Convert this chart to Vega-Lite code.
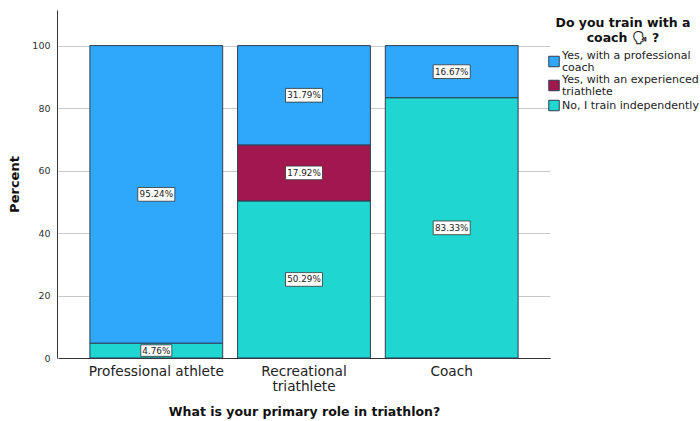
{
  "$schema": "https://vega.github.io/schema/vega-lite/v6.json",
  "width": 492,
  "height": 348,
  "autosize": {"type": "none"},
  "padding": {"left": 57, "top": 10, "right": 151, "bottom": 63},
  "background": "white",
  "config": {"font": "DejaVu Sans", "view": {"stroke": null}},
  "data": {
    "values": [
      {"role": "Professional athlete", "answer": "No, I train independently", "rank": 1, "pct": 4.76},
      {"role": "Professional athlete", "answer": "Yes, with a professional coach", "rank": 3, "pct": 95.24},
      {"role": "Recreational triathlete", "answer": "No, I train independently", "rank": 1, "pct": 50.29},
      {"role": "Recreational triathlete", "answer": "Yes, with an experienced triathlete", "rank": 2, "pct": 17.92},
      {"role": "Recreational triathlete", "answer": "Yes, with a professional coach", "rank": 3, "pct": 31.79},
      {"role": "Coach", "answer": "No, I train independently", "rank": 1, "pct": 83.33},
      {"role": "Coach", "answer": "Yes, with a professional coach", "rank": 3, "pct": 16.67}
    ]
  },
  "transform": [
    {"stack": "pct", "groupby": ["role"], "sort": [{"field": "rank", "order": "ascending"}], "as": ["low", "high"]},
    {"calculate": "(datum.low + datum.high) / 2", "as": "mid"},
    {"calculate": "format(datum.pct, '.2f') + '%'", "as": "pctLabel"}
  ],
  "encoding": {
    "x": {
      "field": "role",
      "type": "nominal",
      "sort": ["Professional athlete", "Recreational triathlete", "Coach"],
      "scale": {"paddingInner": 0.101, "paddingOuter": 0.216, "range": [1, 493]},
      "axis": {
        "title": "What is your primary role in triathlon?",
        "titleFontSize": 12.5,
        "titleFontWeight": "bold",
        "titleColor": "#111111",
        "titlePadding": 13,
        "labelAngle": 0,
        "labelFontSize": 13.7,
        "labelColor": "#222222",
        "labelPadding": 6,
        "labelLineHeight": 15,
        "labelExpr": "datum.label == 'Recreational triathlete' ? ['Recreational', 'triathlete'] : datum.label",
        "ticks": false,
        "domainColor": "#333333",
        "grid": false
      }
    }
  },
  "layer": [
    {
      "mark": {"type": "bar", "stroke": "#2c3e50", "strokeWidth": 1},
      "encoding": {
        "y": {
          "field": "low",
          "type": "quantitative",
          "scale": {"domain": [0, 111.4], "nice": false},
          "axis": {
            "title": "Percent",
            "titleFontSize": 13,
            "titleFontWeight": "bold",
            "titleColor": "#111111",
            "titlePadding": 10,
            "values": [0, 20, 40, 60, 80, 100],
            "labelFontSize": 9.5,
            "labelColor": "#333333",
            "labelPadding": 7,
            "ticks": false,
            "domainColor": "#333333",
            "grid": true,
            "gridColor": "#c8c8c8",
            "gridWidth": 1
          }
        },
        "y2": {"field": "high"},
        "color": {
          "field": "answer",
          "type": "nominal",
          "scale": {
            "domain": ["Yes, with a professional coach", "Yes, with an experienced triathlete", "No, I train independently"],
            "range": ["#2fa8fb", "#a3174f", "#1fd6d0"]
          },
          "legend": {
            "orient": "none",
            "legendX": 491,
            "legendY": 7,
            "title": ["Do you train with a", "coach 🗣 ?"],
            "titleFontSize": 12.5,
            "titleFontWeight": "bold",
            "titleColor": "#111111",
            "titleAlign": "center",
            "titleAnchor": "middle",
            "titleLineHeight": 15,
            "titlePadding": 11,
            "labelFontSize": 11,
            "labelColor": "#222222",
            "labelLimit": 160,
            "labelOffset": 2,
            "labelExpr": "datum.label == 'Yes, with a professional coach' ? ['Yes, with a professional', 'coach'] : datum.label == 'Yes, with an experienced triathlete' ? ['Yes, with an experienced', 'triathlete'] : datum.label",
            "symbolType": "square",
            "symbolSize": 110,
            "symbolStrokeColor": "#2c3e50",
            "symbolStrokeWidth": 1,
            "rowPadding": 1,
            "encoding": {
              "labels": {
                "lineHeight": {"value": 12},
                "dy": {"condition": {"test": "datum.value == 'No, I train independently'", "value": 0}, "value": -6}
              }
            }
          }
        }
      }
    },
    {
      "mark": {"type": "point", "filled": true, "fill": "white", "stroke": "#333333", "strokeWidth": 0.8, "opacity": 1, "shape": "M-1,-0.37H1V0.37H-1Z"},
      "encoding": {
        "y": {"field": "mid", "type": "quantitative"},
        "size": {"condition": {"test": "datum.pct < 10", "value": 961}, "value": 1369}
      }
    },
    {
      "mark": {"type": "text", "fontSize": 8.8, "color": "#222222"},
      "encoding": {
        "y": {"field": "mid", "type": "quantitative"},
        "text": {"field": "pctLabel"}
      }
    }
  ]
}
